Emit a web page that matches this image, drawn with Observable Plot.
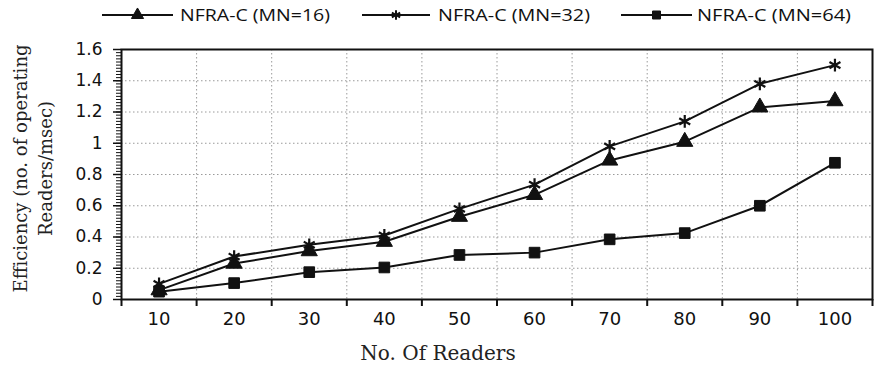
<!DOCTYPE html>
<html><head><meta charset="utf-8">
<script src="https://cdn.jsdelivr.net/npm/d3@7"></script>
<script src="https://cdn.jsdelivr.net/npm/@observablehq/plot@0.6"></script>
<style>
body{margin:0;background:#fff;width:874px;height:368px;overflow:hidden;}
#legend{height:30px;display:block;}
#legend svg{display:block;}
</style></head><body>
<div id="legend"></div>
<div id="chart"></div>
<script>
const readers = [10, 20, 30, 40, 50, 60, 70, 80, 90, 100];
const mn16 = [0.06, 0.23, 0.31, 0.37, 0.53, 0.67, 0.89, 1.01, 1.23, 1.27];
const mn32 = [0.10, 0.275, 0.35, 0.41, 0.58, 0.735, 0.98, 1.14, 1.38, 1.50];
const mn64 = [0.05, 0.105, 0.175, 0.205, 0.285, 0.30, 0.385, 0.425, 0.60, 0.875];
const seriesNames = ["NFRA-C (MN=16)", "NFRA-C (MN=32)", "NFRA-C (MN=64)"];
const seriesSymbols = ["triangle", "asterisk", "square"];
const xTickLabels = ["10", "20", "30", "40", "50", "60", "70", "80", "90", "100"];
const yTicks = [0, 0.2, 0.4, 0.6, 0.8, 1, 1.2, 1.4, 1.6];
const yTickLabels = ["0", "0.2", "0.4", "0.6", "0.8", "1", "1.2", "1.4", "1.6"];
const xTitle = "No. Of Readers";
const yTitle = "Efficiency (no. of operating\nReaders/msec)";

const seriesValues = [mn16, mn32, mn64];
const data = seriesNames.flatMap((s, k) => readers.map((r, i) => ({x: r, y: seriesValues[k][i], s})));

// legend (layout only)
const legendLine = [[102, 173], [362, 430], [621, 692]];
const legendText = [[180, 150], [438, 152], [697, 154]];
const symMap = {triangle: d3.symbolTriangle, asterisk: d3.symbolAsterisk, square: d3.symbolSquare};
const lsvg = d3.create("svg").attr("width", 874).attr("height", 30);
seriesNames.forEach((name, k) => {
  const [a, b] = legendLine[k];
  lsvg.append("line").attr("x1", a).attr("x2", b).attr("y1", 15).attr("y2", 15)
    .attr("stroke", "#111").attr("stroke-width", 2);
  lsvg.append("path").attr("transform", `translate(${(a + b) / 2},15)`)
    .attr("d", d3.symbol(symMap[seriesSymbols[k]], 64)())
    .attr("fill", "#111").attr("stroke", "#111").attr("stroke-width", k === 1 ? 2 : 1);
  lsvg.append("text").attr("x", legendText[k][0]).attr("y", 15).attr("dy", "0.35em")
    .attr("textLength", legendText[k][1]).attr("lengthAdjust", "spacingAndGlyphs")
    .attr("font-family", "'Open Sans', sans-serif").attr("font-size", 17).attr("fill", "#111")
    .text(name);
});
document.getElementById("legend").appendChild(lsvg.node());

const gridStyle = {stroke: "#9a9a9a", strokeOpacity: 1, strokeDasharray: "1.5,2.5", strokeWidth: 1};
const xBoundaries = d3.range(5, 106, 10);
const yMinor = d3.range(0, 81).map(i => i * 0.02);

const plot = Plot.plot({
  width: 874, height: 338,
  marginTop: 19, marginLeft: 121, marginRight: 2, marginBottom: 69,
  style: {fontFamily: "'DejaVu Sans', sans-serif", fontSize: "17px", color: "#111", background: "#fff"},
  x: {domain: [5, 105], label: null},
  y: {domain: [0, 1.6], label: null},
  symbol: {domain: seriesNames, range: seriesSymbols},
  marks: [
    Plot.gridX(xBoundaries.slice(1, -1), gridStyle),
    Plot.gridY(yTicks.slice(1, -1), gridStyle),
    Plot.axisY(yMinor, {tickSize: 5, tickFormat: () => "", label: null, strokeWidth: 1}),
    Plot.axisY(yTicks, {tickSize: 8, tickPadding: 11, strokeWidth: 1.5, label: null,
      tickFormat: d => yTickLabels[yTicks.indexOf(d)]}),
    Plot.axisX(xBoundaries, {tickSize: 7, strokeWidth: 2, tickFormat: () => "", label: null}),
    Plot.axisX(readers, {tickSize: 0, tickPadding: 13, label: null, fontSize: 18, letterSpacing: "1px",
      tickFormat: d => xTickLabels[readers.indexOf(d)]}),
    Plot.frame({stroke: "#111", strokeWidth: 2}),
    Plot.line(data, {x: "x", y: "y", z: "s", stroke: "#111", strokeWidth: 2}),
    Plot.dot(data, {x: "x", y: "y", symbol: "s", r: 6, fill: "#111", stroke: "#111",
      strokeWidth: d => d.s === seriesNames[1] ? 2.2 : 1}),
    Plot.text([xTitle], {frameAnchor: "bottom", textAnchor: "middle", lineAnchor: "bottom", dx: -59, dy: 60,
      fontFamily: "'DejaVu Serif', serif", fontSize: 20, letterSpacing: "2px", fill: "#222"}),
    Plot.text([yTitle], {frameAnchor: "left", textAnchor: "middle", rotate: -90, lineAnchor: "middle", dx: -90, dy: -6,
      lineHeight: 1.4, fontFamily: "'DejaVu Serif', serif", fontSize: 18, fill: "#222"})
  ]
});
document.getElementById("chart").appendChild(plot);
</script>
</body></html>
